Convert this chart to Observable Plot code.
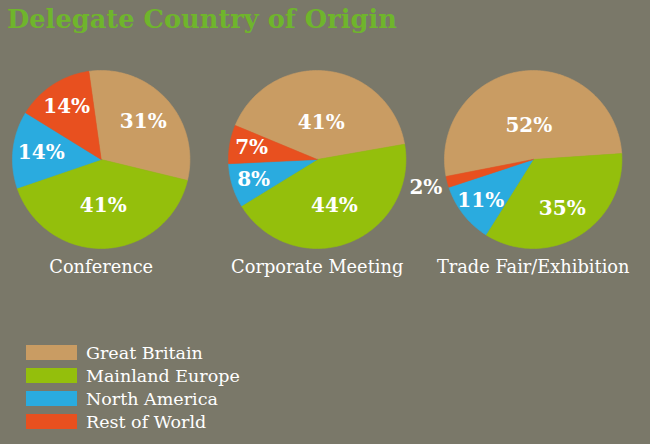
<!DOCTYPE html>
<html><head><meta charset="utf-8">
<script src="https://cdn.jsdelivr.net/npm/d3@7"></script>
<script src="https://cdn.jsdelivr.net/npm/@observablehq/plot@0.6"></script>
<style>
html,body{margin:0;padding:0;background:#7a7869;width:650px;height:444px;overflow:hidden;}
#title{position:absolute;left:7px;top:5px;font-family:"DejaVu Serif";font-weight:bold;font-size:25.7px;line-height:28px;color:#6fb52c;white-space:nowrap;}
#chart{position:absolute;left:0;top:36px;}
#legend{position:absolute;left:26px;top:341px;font-family:"DejaVu Serif";font-size:17.5px;color:#fff;}
.row{display:flex;align-items:center;height:23px;}
.sw{width:51px;height:15px;margin-right:9px;}
</style></head><body>
<div id="title">Delegate Country of Origin</div>
<div id="chart"></div>
<div id="legend"></div>
<script>
// ---- data ----
const events = ["Conference", "Corporate Meeting", "Trade Fair/Exhibition"];
const regions = ["Great Britain", "Mainland Europe", "North America", "Rest of World"];
const conference = [31, 41, 14, 14];
const corporateMeeting = [41, 44, 8, 7];
const tradeFair = [52, 35, 11, 2];

// ---- style / layout ----
const colors = ["#c99c63", "#94bf0c", "#2aabdf", "#e8501f"];
const startAngles = [-8, -67.5, -101]; // degrees clockwise from 12 o'clock
const labelRadii = [[0.64, 0.52, 0.68, 0.71], [0.42, 0.55, 0.75, 0.75], [0.38, 0.64, 0.75, 1.25]];
const R = 89;          // pie radius in px
const W = 650, H = 300;
const cx = 100, cy = 123; // center offset of pie within its facet

const series = [conference, corporateMeeting, tradeFair];
const wedges = [], labels = [];
events.forEach((ev, i) => {
  let a = startAngles[i];
  series[i].forEach((v, j) => {
    const a0 = a, a1 = a + v * 3.6; a = a1;
    const n = Math.max(2, Math.ceil(a1 - a0));
    wedges.push({event: ev, region: regions[j], x: 0, y: 0});
    for (let k = 0; k <= n; k++) {
      const t = (a0 + (a1 - a0) * k / n) * Math.PI / 180;
      wedges.push({event: ev, region: regions[j], x: Math.sin(t), y: Math.cos(t)});
    }
    wedges.push({event: ev, region: regions[j], x: 0, y: 0});
    const m = (a0 + a1) / 2 * Math.PI / 180, r = labelRadii[i][j];
    labels.push({event: ev, x: r * Math.sin(m), y: r * Math.cos(m), text: v + "%"});
  });
});

const plot = Plot.plot({
  width: W, height: H,
  marginTop: 0, marginRight: 0, marginBottom: 0, marginLeft: 0,
  style: {background: "transparent", overflow: "visible"},
  fx: {domain: events, padding: 0, axis: null},
  x: {domain: [-cx / R, (W / 3 - cx) / R], axis: null},
  y: {domain: [-(H - cy) / R, cy / R], axis: null},
  color: {domain: regions, range: colors},
  marks: [
    Plot.line(wedges, {fx: "event", x: "x", y: "y", z: "region", fill: "region", stroke: "region", strokeWidth: 0.6, curve: "linear"}),
    Plot.text(labels, {fx: "event", x: "x", y: "y", text: "text", fill: "white", fontSize: 20, fontWeight: "bold", fontFamily: "DejaVu Serif"}),
    Plot.text(events, {fx: d => d, x: () => 0, y: () => -108 / R, text: d => d, fill: "white", fontSize: 17.8, fontFamily: "DejaVu Serif"})
  ]
});
document.getElementById("chart").appendChild(plot);

const legend = document.getElementById("legend");
regions.forEach((r, i) => {
  const row = document.createElement("div"); row.className = "row";
  const sw = document.createElement("div"); sw.className = "sw"; sw.style.background = colors[i];
  const tx = document.createElement("span"); tx.textContent = r;
  row.appendChild(sw); row.appendChild(tx); legend.appendChild(row);
});
</script>
</body></html>
